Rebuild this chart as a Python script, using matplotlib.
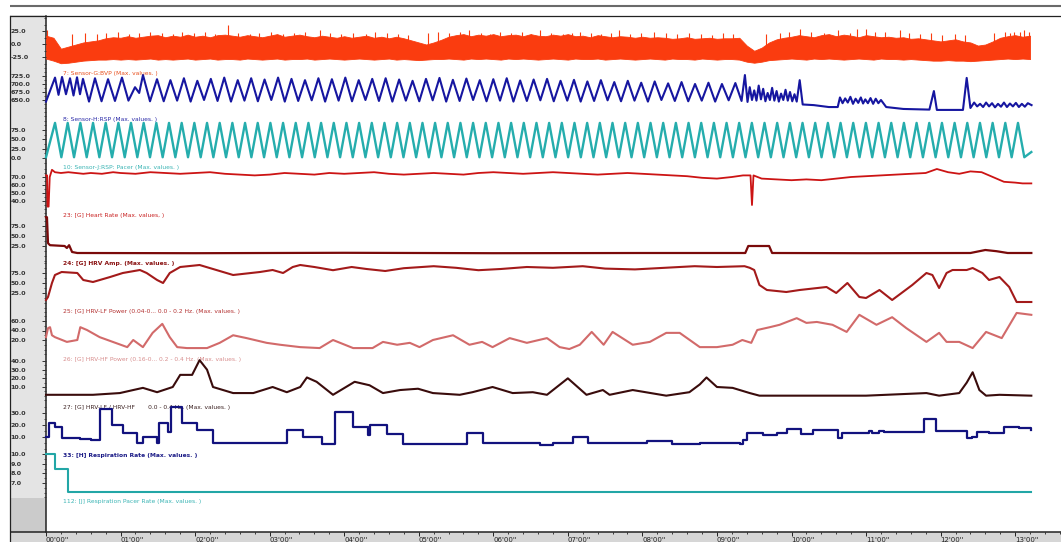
import numpy as np
import matplotlib
matplotlib.use("Agg")
import matplotlib.pyplot as plt
from matplotlib.patches import Rectangle
from matplotlib.ticker import FixedLocator, MultipleLocator

# ------------------------------------------------------------------ data
time_ticks = [0, 1, 2, 3, 4, 5, 6, 7, 8, 9, 10, 11, 12, 13]
time_labels = ["00'00''", "01'00''", "02'00''", "03'00''", "04'00''", "05'00''", "06'00''",
               "07'00''", "08'00''", "09'00''", "10'00''", "11'00''", "12'00''", "13'00''"]

channel_names = [
    "7: Sensor-G:BVP (Max. values. )",
    "8: Sensor-H:RSP (Max. values. )",
    "10: Sensor-J:RSP: Pacer (Max. values. )",
    "23: [G] Heart Rate (Max. values, )",
    "24: [G] HRV Amp. (Max. values. )",
    "25: [G] HRV-LF Power (0.04-0... 0.0 - 0.2 Hz. (Max. values. )",
    "26: [G] HRV-HF Power (0.16-0... 0.2 - 0.4 Hz. (Max. values. )",
    "27: [G] HRV-LF / HRV-HF       0.0 - 0.4 Hz. (Max. values. )",
    "33: [H] Respiration Rate (Max. values. )",
    "112: [J] Respiration Pacer Rate (Max. values. )",
]
channel_ticks = [
    [25, 0, -25],
    [725, 700, 675, 650],
    [75, 50, 25, 0],
    [70, 60, 50, 40],
    [75, 50, 25],
    [75, 50, 25],
    [60, 40, 20],
    [40, 30, 20, 10],
    [30, 20, 10],
    [10, 9, 8, 7],
]

# 1) BVP: envelope sampled every 0.1 min, plus individual beat spikes
bvp_upper = [16, 12, -9, -5, -1, 3, 5, 7, 11, 13, 12, 15, 12, 14, 16, 17, 13, 16, 14, 18,
             14, 16, 13, 17, 18, 16, 14, 17, 15, 13, 16, 19, 14, 16, 18, 15, 13, 16, 14, 12,
             15, 12, 14, 16, 12, 14, 11, 14, 11, 7, 3, -1, 3, 8, 14, 17, 19, 15, 18, 16,
             19, 15, 17, 18, 15, 19, 16, 15, 18, 16, 19, 15, 16, 13, 17, 15, 13, 15, 14, 12,
             14, 12, 13, 12, 10, 11, 13, 10, 11, 12, 10, 11, 11, 12, -3, -13, -7, 3, 9, 12,
             14, 17, 15, 13, 17, 19, 15, 18, 16, 13, 17, 15, 13, 14, 12, 13, 10, 11, 9, 7,
             5, 7, 9, 5, 3, -3, -1, 5, 12, 15, 17, 14, 16]
bvp_lower = [-28, -32, -37, -36, -34, -32, -31, -30, -30, -29, -30, -29, -30, -29, -28, -30, -29, -30, -29, -28,
             -30, -29, -28, -30, -29, -29, -30, -28, -29, -30, -29, -28, -30, -29, -29, -28, -30, -29, -28, -29,
             -30, -29, -28, -29, -30, -29, -28, -30, -29, -30, -31, -30, -29, -29, -28, -29, -30, -28, -29, -28,
             -29, -30, -28, -29, -28, -29, -30, -29, -28, -29, -30, -28, -29, -29, -28, -30, -29, -28, -29, -30,
             -29, -28, -29, -30, -28, -29, -29, -30, -28, -29, -30, -29, -29, -30, -34, -36, -34, -31, -30, -29,
             -28, -29, -30, -28, -29, -28, -29, -30, -29, -28, -29, -30, -28, -29, -29, -30, -29, -30, -31, -32,
             -32, -31, -32, -32, -33, -32, -31, -30, -29, -28, -29, -28, -29]
bvp_spike_t = [0.013, 0.35, 0.52, 0.68, 0.81, 0.97, 1.12, 1.25, 1.39, 1.55, 1.71, 1.83, 1.98, 2.13,
               2.27, 2.44, 2.58, 2.73, 2.86, 3.02, 3.18, 3.33, 3.47, 3.67, 3.81, 3.96, 4.12, 4.29,
               4.41, 4.58, 4.72, 4.86, 5.12, 5.26, 5.41, 5.55, 5.68, 5.83, 5.96, 6.09, 6.24, 6.38,
               6.51, 6.62, 6.77, 6.93, 7.05, 7.16, 7.31, 7.45, 7.58, 7.69, 7.84, 7.98, 8.16, 8.31,
               8.47, 8.62, 8.78, 8.93, 9.08, 9.22, 9.66, 9.84, 9.97, 10.11, 10.26, 10.43, 10.62,
               10.78, 10.88, 11.0, 11.12, 11.25, 11.45, 11.58, 11.73, 11.87, 12.02, 12.19, 12.33,
               12.71, 12.86, 12.93, 12.99, 13.06, 13.12, 13.19]
bvp_spike_v = [26, 20, 22, 19, 21, 23, 20, 22, 24, 21, 19, 23, 21, 24,
               20, 36, 22, 19, 21, 23, 20, 22, 24, 26, 21, 19, 22, 20,
               23, 21, 19, 18, 22, 24, 21, 23, 26, 22, 20, 24, 21, 23,
               19, 26, 22, 20, 21, 24, 22, 19, 21, 26, 20, 22, 24, 21,
               19, 22, 20, 18, 21, 19, 20, 22, 24, 28, 23, 21, 26,
               22, 28, 28, 23, 24, 26, 22, 20, 21, 18, 20, 17,
               22, 24, 22, 24, 24, 26, 24]

# 2) RSP (sensor H): peaks and troughs of the respiration trace
rsp_peak_t = [0.121, 0.215, 0.322, 0.416, 0.496, 0.657, 0.832, 1.019, 1.194, 1.301,
              1.489, 1.669, 1.850, 2.030, 2.211, 2.391, 2.572, 2.752, 2.932, 3.113,
              3.293, 3.474, 3.654, 3.835, 4.015, 4.195, 4.376, 4.556, 4.737, 4.917,
              5.097, 5.278, 5.458, 5.639, 5.819, 6.000, 6.180, 6.360, 6.541, 6.721,
              6.902, 7.082, 7.262, 7.443, 7.623, 7.804, 7.984, 8.165, 8.345, 8.525,
              8.706, 8.886, 9.067, 9.247,
              9.375, 9.44, 9.50, 9.56, 9.62, 9.68, 9.74, 9.80, 9.86, 9.92, 9.98, 10.04,
              10.11, 10.65, 10.72, 10.79, 10.86, 10.93, 10.99, 11.06, 11.13, 11.20,
              11.91, 12.35, 12.45, 12.53, 12.61, 12.69, 12.77, 12.85, 12.93, 13.01, 13.09, 13.17]
rsp_peak_v = [720, 722, 718, 721, 716, 718, 715, 720, 690, 728,
              715, 712, 718, 710, 716, 720, 712, 718, 714, 720,
              716, 712, 718, 715, 720, 712, 716, 718, 714, 710,
              716, 719, 713, 717, 712, 715, 718, 711, 714, 716,
              710, 713, 708, 712, 706, 710, 704, 708, 702, 706,
              700, 704, 700, 703,
              728, 690, 680, 695, 685, 672, 688, 678, 670, 682, 675, 668,
              712, 658, 655, 660, 654, 658, 652, 656, 654, 650,
              678, 719, 642, 638, 642, 640, 638, 642, 639, 641, 638, 640]
rsp_trough_t = [0.0, 0.168, 0.268, 0.369, 0.456, 0.577, 0.745, 0.925, 1.106, 1.25, 1.395,
                1.579, 1.759, 1.940, 2.120, 2.301, 2.481, 2.662, 2.842, 3.022, 3.203,
                3.383, 3.564, 3.744, 3.925, 4.105, 4.285, 4.466, 4.646, 4.827, 5.007,
                5.187, 5.368, 5.548, 5.729, 5.909, 6.090, 6.270, 6.450, 6.631, 6.811,
                6.992, 7.172, 7.352, 7.533, 7.713, 7.894, 8.074, 8.255, 8.435, 8.615,
                8.796, 8.976, 9.157, 9.330,
                9.41, 9.47, 9.53, 9.59, 9.65, 9.71, 9.77, 9.83, 9.89, 9.95, 10.01, 10.07,
                10.15, 10.30, 10.50, 10.62, 10.685, 10.755, 10.825, 10.895, 10.96, 11.025,
                11.095, 11.165, 11.27, 11.50, 11.85, 11.95, 12.30, 12.40, 12.49, 12.57,
                12.65, 12.73, 12.81, 12.89, 12.97, 13.05, 13.13, 13.22]
rsp_trough_v = [645, 666, 668, 664, 668, 645, 646, 647, 648, 672, 646,
                646, 648, 645, 650, 647, 645, 648, 646, 650, 645,
                647, 649, 645, 648, 646, 650, 647, 645, 648, 646,
                649, 645, 647, 650, 646, 648, 645, 647, 649, 646,
                648, 645, 647, 649, 646, 648, 645, 650, 647, 646,
                648, 645, 649, 647,
                644, 650, 648, 652, 646, 650, 648, 645, 650, 648, 646, 645,
                636, 634, 628, 628, 640, 642, 638, 641, 639, 640,
                638, 640, 628, 622, 620, 619, 619, 625, 630, 628,
                630, 627, 629, 628, 630, 628, 629, 634]

# 3) RSP pacer: peaks and troughs
pacer_peak_t = [0.121, 0.291, 0.461, 0.631, 0.801, 0.971, 1.140, 1.310, 1.480, 1.650,
                1.820, 1.990, 2.160, 2.330, 2.500, 2.670, 2.840, 3.010, 3.180, 3.350,
                3.520, 3.690, 3.860, 4.030, 4.200, 4.370, 4.540, 4.710, 4.880, 5.050,
                5.219, 5.389, 5.559, 5.729, 5.899, 6.069, 6.239, 6.409, 6.579, 6.749,
                6.919, 7.089, 7.259, 7.429, 7.599, 7.769, 7.939, 8.109, 8.279, 8.449,
                8.619, 8.789, 8.959, 9.129, 9.298, 9.468, 9.638, 9.808, 9.978, 10.148,
                10.318, 10.488, 10.658, 10.828, 10.998, 11.168, 11.338, 11.508, 11.678, 11.848,
                12.018, 12.188, 12.358, 12.528, 12.698, 12.868, 13.038]
pacer_trough_t = [0.0, 0.206, 0.376, 0.546, 0.716, 0.886, 1.056, 1.225, 1.395, 1.565, 1.735,
                  1.905, 2.075, 2.245, 2.415, 2.585, 2.755, 2.925, 3.095, 3.265, 3.435,
                  3.605, 3.775, 3.945, 4.115, 4.285, 4.455, 4.625, 4.795, 4.965, 5.135,
                  5.304, 5.474, 5.644, 5.814, 5.984, 6.154, 6.324, 6.494, 6.664, 6.834,
                  7.004, 7.174, 7.344, 7.514, 7.684, 7.854, 8.024, 8.194, 8.364, 8.534,
                  8.704, 8.874, 9.044, 9.214, 9.383, 9.553, 9.723, 9.893, 10.063, 10.233,
                  10.403, 10.573, 10.743, 10.913, 11.083, 11.253, 11.423, 11.593, 11.763, 11.933,
                  12.103, 12.273, 12.443, 12.613, 12.783, 12.953, 13.123]
pacer_peak_value = 94
pacer_trough_value = 2
pacer_end_t, pacer_end_v = 13.217, 16

# 4) Heart rate
hr_t = [0.0, 0.015, 0.02, 0.035, 0.05, 0.08, 0.12, 0.2, 0.3, 0.4, 0.5, 0.6, 0.75, 0.9, 1.0, 1.2,
        1.4, 1.6, 1.8, 2.0, 2.2, 2.4, 2.6, 2.8, 3.0, 3.2, 3.4, 3.6, 3.8, 4.0, 4.2, 4.4, 4.6,
        4.8, 5.0, 5.2, 5.4, 5.6, 5.8, 6.0, 6.2, 6.4, 6.6, 6.8, 7.0, 7.2, 7.4, 7.6, 7.8, 8.0,
        8.2, 8.4, 8.6, 8.8, 9.0, 9.2, 9.35, 9.45, 9.47, 9.49, 9.6, 9.8, 10.0, 10.2, 10.4,
        10.6, 10.8, 11.0, 11.2, 11.4, 11.6, 11.8, 11.95, 12.1, 12.25, 12.4, 12.55, 12.7,
        12.85, 13.0, 13.1, 13.217]
hr_v = [72, 72, 33, 33, 70, 79, 76, 75, 76, 75, 74, 75, 74, 76, 75, 74,
        76, 75, 74, 75, 76, 74, 73, 72, 73, 75, 74, 73, 75, 74, 75, 76, 74,
        73, 74, 75, 74, 73, 75, 76, 75, 74, 75, 76, 75, 74, 73, 74, 75, 74,
        73, 72, 71, 69, 68, 70, 72, 72, 35, 72, 68, 67, 66, 67, 66,
        68, 70, 71, 72, 73, 74, 75, 80, 76, 74, 77, 76, 70,
        64, 63, 62, 62]

# 5) HRV amplitude
hrva_t = [0.0, 0.013, 0.027, 0.054, 0.25, 0.28, 0.31, 0.35, 0.42, 2.0, 4.0, 6.0, 8.0,
          9.38, 9.42, 9.70, 9.74, 11.0, 12.4, 12.6, 12.75, 12.9, 13.217]
hrva_v = [97, 97, 32, 27, 25, 20, 27, 10, 7.5, 7, 8, 7, 7.5,
          7.5, 25, 25, 7.5, 7, 7.5, 15, 12, 7.5, 7.5]

# 6) HRV-LF power
lf_t = [0.0, 0.027, 0.08, 0.12, 0.21, 0.42, 0.50, 0.63, 0.86, 1.03, 1.26, 1.35, 1.49, 1.57,
        1.66, 1.80, 2.06, 2.51, 2.87, 3.04, 3.18, 3.31, 3.41, 3.6, 3.85, 4.1, 4.3, 4.55,
        4.8, 5.2, 5.5, 5.8, 6.1, 6.45, 6.8, 7.2, 7.5, 7.9, 8.3, 8.7, 9.0, 9.37, 9.44,
        9.50, 9.57, 9.67, 9.93, 10.11, 10.47, 10.60, 10.75, 10.91, 11.0, 11.18, 11.35,
        11.62, 11.81, 11.89, 11.98, 12.08, 12.16, 12.35, 12.43, 12.56, 12.65, 12.79,
        12.92, 13.02, 13.217]
lf_v = [7.5, 15, 50, 70, 77.5, 75, 57.5, 52.5, 65, 75, 82.5, 75, 57.5, 50,
        75, 90, 95, 70, 77.5, 82.5, 75, 90, 95, 90, 82, 90, 85, 80,
        87, 92, 88, 82, 85, 90, 88, 92, 86, 84, 88, 92, 90, 92, 88,
        82.5, 45, 32.5, 27.5, 32.5, 40, 25, 50, 15, 12.5, 32.5, 7.5,
        45, 75, 70, 37.5, 75, 82.5, 82.5, 87.5, 75, 57.5, 65,
        40, 2.5, 2.5]

# 7) HRV-HF power
hf_t = [0.0, 0.027, 0.054, 0.08, 0.12, 0.28, 0.42, 0.46, 0.55, 0.72, 1.09, 1.17, 1.30, 1.43,
        1.56, 1.66, 1.76, 1.89, 2.16, 2.33, 2.51, 2.69, 2.96, 3.14, 3.41, 3.67, 3.85, 4.12,
        4.38, 4.52, 4.71, 4.88, 5.01, 5.19, 5.46, 5.68, 5.85, 5.99, 6.22, 6.45, 6.72, 6.89,
        7.02, 7.16, 7.32, 7.48, 7.60, 7.87, 8.10, 8.32, 8.50, 8.77, 9.0, 9.21, 9.34, 9.46,
        9.54, 9.71, 9.84, 10.07, 10.20, 10.34, 10.55, 10.74, 10.91, 11.14, 11.35, 11.54,
        11.81, 11.98, 12.08, 12.25, 12.43, 12.61, 12.82, 13.02, 13.217]
hf_v = [26, 45, 47, 30, 26, 16, 20, 47, 41, 26, 5, 20, 5, 35,
        54, 26, 5, 3, 3, 14, 30, 24, 14, 10, 5, 3, 20, 3,
        3, 16, 10, 14, 5, 20, 30, 10, 16, 5, 24, 14, 24, 5,
        1, 10, 37, 10, 37, 10, 16, 35, 35, 5, 5, 10, 20, 14,
        41, 47, 52, 66, 56, 58, 52, 37, 73, 52, 68, 45,
        16, 35, 16, 16, 3, 37, 24, 77, 73]

# 8) HRV-LF / HRV-HF
ratio_t = [0.0, 0.28, 0.63, 0.99, 1.17, 1.30, 1.49, 1.70, 1.80, 1.96, 2.06, 2.16, 2.24, 2.51,
           2.78, 3.04, 3.23, 3.41, 3.50, 3.63, 3.85, 4.14, 4.34, 4.52, 4.75, 4.99, 5.19,
           5.55, 5.72, 5.99, 6.26, 6.53, 6.72, 7.0, 7.25, 7.47, 7.56, 7.87, 8.32, 8.63,
           8.77, 8.86, 9.0, 9.21, 9.44, 9.57, 11.0, 11.81, 11.98, 12.25, 12.35, 12.43,
           12.52, 12.61, 12.79, 13.217]
ratio_v = [1, 1, 1, 3, 6.5, 9, 4, 10, 24, 24, 41, 30, 10, 3,
           3, 10, 4, 10, 21, 16, 1, 16, 12, 3, 6.5, 8, 3,
           1, 4, 10, 3, 4, 1, 20, 1, 6.5, 1, 6.5, 0, 4,
           13, 21, 10, 9, 3, 0, 0, 3, 0, 3, 15, 27,
           6.5, 0, 1, 0]

# 9) Respiration rate (step)
resp_t = [0.0, 0.04, 0.12, 0.21, 0.45, 0.60, 0.724, 0.885, 1.032, 1.22, 1.30, 1.488, 1.515,
          1.635, 1.676, 1.823, 2.024, 2.239, 3.231, 3.445, 3.70, 3.874, 4.115, 4.316, 4.343,
          4.571, 4.786, 5.643, 5.858, 6.622, 6.796, 7.064, 7.265, 8.056, 8.391, 8.767,
          9.303, 9.343, 9.397, 9.611, 9.799, 9.933, 10.134, 10.282, 10.63, 10.684, 11.046,
          11.086, 11.18, 11.247, 11.783, 11.944, 12.359, 12.426, 12.493, 12.654, 12.855,
          13.056, 13.217]
resp_v = [10, 21.7, 18.3, 9, 8.3, 7.5, 33.3, 20, 13.3, 5, 10, 5, 21.7,
          14.2, 35, 21.7, 15.8, 5, 15.8, 10, 4.2, 31, 18.3, 11.7, 20,
          12.5, 4.2, 13.3, 5, 3.3, 5, 10, 5, 6.7, 4.2, 5,
          4.2, 7.5, 13.3, 11.7, 13.3, 16.7, 12.5, 15.8, 9.2, 13.3, 15,
          13.3, 15, 14.2, 25, 15, 9.2, 10, 14.2, 13.3, 18.3,
          17.5, 15.8]

# 10) Respiration pacer rate (step)
prate_t = [0.0, 0.12, 0.295, 13.217]
prate_v = [10.0, 8.45, 6.1, 6.1]

# ------------------------------------------------------------------ layout
W, H = 1061, 542
X0 = 46.0            # px, left edge of the plotting area (time 0)
PX_PER_MIN = 74.55
XMAX = (W - X0) / PX_PER_MIN

bands = [(16, 68), (68, 118), (118, 166), (166, 213), (213, 262),
         (262, 310), (310, 357), (357, 404), (404, 451), (451, 498)]
calib = [(25, 31, -25, 57), (725, 76, 650, 100), (75, 130, 0, 158), (70, 177, 40, 201),
         (75, 226, 25, 246), (75, 273, 25, 293), (60, 321, 20, 340), (40, 361, 10, 387),
         (30, 413, 10, 437), (10, 454, 7, 483)]
label_y = [74, 119, 168, 215, 264, 312, 359, 407, 455, 501]
line_colors = ['#fa3c0f', '#1616a0', '#25adad', '#cc1414', '#7a0a0a',
               '#a31a1a', '#d26a6a', '#3a0c0c', '#12127e', '#22a6a6']
label_colors = ['#e8501e', '#2a2aa8', '#3ab4b4', '#c82020', '#8a1212',
                '#b33030', '#d88e8e', '#3a2020', '#1a1a86', '#3ab4b4']
line_widths = [None, 1.5, 1.7, 1.3, 1.6, 1.5, 1.5, 1.5, 1.6, 1.5]

fig = plt.figure(figsize=(W / 100, H / 100), dpi=100)
fig.patch.set_facecolor('white')

bg = fig.add_axes([0, 0, 1, 1])
bg.set_xlim(0, W)
bg.set_ylim(H, 0)
bg.axis('off')
bg.add_patch(Rectangle((10, 15), 35.5, 483, facecolor='#e4e4e4', edgecolor='none'))
bg.add_patch(Rectangle((10, 498), 35.5, 34, facecolor='#cbcbcb', edgecolor='none'))
bg.add_patch(Rectangle((10, 532), W - 10, 10, facecolor='#d6d6d6', edgecolor='none'))
bg.plot([10, W], [6, 6], color='#6a6a6a', lw=1.5, solid_capstyle='butt')
bg.plot([10, W], [15.5, 15.5], color='#222222', lw=0.9, solid_capstyle='butt')
bg.plot([9.8, 9.8], [15.5, H], color='#222222', lw=0.9)
bg.plot([45.6, 45.6], [15.5, 532], color='#222222', lw=1.1)
bg.plot([10, W], [532, 532], color='#222222', lw=1.1, solid_capstyle='butt')


def merge(t_a, v_a, t_b, v_b):
    t_all = np.array(list(t_a) + list(t_b), dtype=float)
    v_all = np.array(list(v_a) + list(v_b), dtype=float)
    o = np.argsort(t_all, kind='stable')
    return t_all[o], v_all[o]


for i in range(10):
    top, bot = bands[i]
    v0, p0, v1, p1 = calib[i]
    s = (p1 - p0) / (v0 - v1)
    ytop = v0 + (p0 - top) / s
    ybot = v0 - (bot - p0) / s
    ax = fig.add_axes([X0 / W, 1 - bot / H, (W - X0) / W, (bot - top) / H])
    ax.set_xlim(0, XMAX)
    ax.patch.set_visible(False)
    for sp in ax.spines.values():
        sp.set_visible(False)
    ax.set_xticks([])
    ax.set_yticks(channel_ticks[i])
    ax.set_yticklabels(['%.1f' % v for v in channel_ticks[i]])
    step = abs(channel_ticks[i][0] - channel_ticks[i][1])
    ax.yaxis.set_minor_locator(MultipleLocator(step / 2))
    ax.tick_params(axis='y', which='major', direction='out', length=3.0, width=0.7,
                   color='#333333', pad=22.6, labelsize=4.6, labelcolor='#333333')
    ax.tick_params(axis='y', which='minor', direction='out', length=1.6, width=0.6,
                   color='#333333')
    for lab in ax.get_yticklabels():
        lab.set_horizontalalignment('left')
        lab.set_fontweight('bold')

    c = line_colors[i]
    lw = line_widths[i]
    if i == 0:
        n = min(len(bvp_upper), len(bvp_lower))
        tt = np.arange(n) * 0.1
        ax.fill_between(tt, bvp_lower[:n], bvp_upper[:n], color=c, lw=0.6, edgecolor=c, clip_on=False)
        m = min(len(bvp_spike_t), len(bvp_spike_v))
        ax.vlines(bvp_spike_t[:m], [-10] * m, bvp_spike_v[:m], color=c, lw=0.8, clip_on=False)
    elif i == 1:
        tt, vv = merge(rsp_peak_t, rsp_peak_v, rsp_trough_t, rsp_trough_v)
        ax.plot(tt, vv, color=c, lw=lw, clip_on=False, solid_joinstyle='round')
    elif i == 2:
        tt, vv = merge(pacer_peak_t, [pacer_peak_value] * len(pacer_peak_t),
                       pacer_trough_t + [pacer_end_t],
                       [pacer_trough_value] * len(pacer_trough_t) + [pacer_end_v])
        ax.plot(tt, vv, color=c, lw=lw, clip_on=False, solid_joinstyle='round')
    elif i == 3:
        ax.plot(hr_t, hr_v, color=c, lw=lw, clip_on=False)
    elif i == 4:
        ax.plot(hrva_t, hrva_v, color=c, lw=lw, clip_on=False)
    elif i == 5:
        ax.plot(lf_t, lf_v, color=c, lw=lw, clip_on=False, solid_joinstyle='round')
    elif i == 6:
        ax.plot(hf_t, hf_v, color=c, lw=lw, clip_on=False, solid_joinstyle='round')
    elif i == 7:
        ax.plot(ratio_t, ratio_v, color=c, lw=lw, clip_on=False, solid_joinstyle='round')
    elif i == 8:
        ax.step(resp_t, resp_v, where='post', color=c, lw=lw, clip_on=False)
    elif i == 9:
        ax.step(prate_t, prate_v, where='post', color=c, lw=lw, clip_on=False)
    ax.set_ylim(ybot, ytop)

    w = 'bold' if i in (4, 8) else 'normal'
    bg.text(63, label_y[i], channel_names[i], color=label_colors[i], fontsize=4.3,
            va='center', ha='left', fontweight=w)

# time axis
tax = fig.add_axes([X0 / W, 1 - 532 / H, (W - X0) / W, (532 - 15.5) / H])
tax.set_xlim(0, XMAX)
tax.patch.set_visible(False)
for sp in tax.spines.values():
    sp.set_visible(False)
tax.set_yticks([])
tax.set_xticks(time_ticks)
tax.set_xticklabels(time_labels)
tax.xaxis.set_minor_locator(MultipleLocator(0.2))
tax.tick_params(axis='x', which='major', direction='out', length=3.2, width=0.7,
                color='#222222', pad=0.6, labelsize=5.0, labelcolor='#222222')
tax.tick_params(axis='x', which='minor', direction='out', length=1.6, width=0.6, color='#222222')
for lab in tax.get_xticklabels():
    lab.set_horizontalalignment('left')

fig.savefig('out.png', dpi=100, facecolor='white')
